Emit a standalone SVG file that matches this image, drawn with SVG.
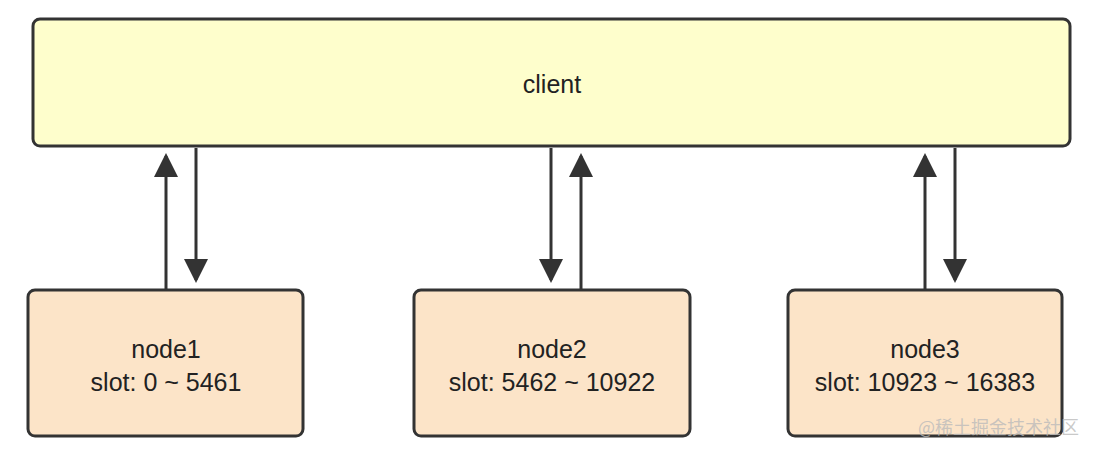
<svg xmlns="http://www.w3.org/2000/svg" width="1094" height="454" viewBox="0 0 1094 454">
<style>
.box{stroke:#333;stroke-width:3}
.t{font-family:"Liberation Sans",Arial,sans-serif;font-size:25px;fill:#222;text-anchor:middle}
.c{stroke:#333;stroke-width:3;fill:none}
</style>
<defs>
<marker id="a" markerWidth="8" markerHeight="12" refX="7" refY="4" orient="auto" markerUnits="strokeWidth" viewBox="0 0 8 8"><path d="M0,0 L8,4 L0,8 Z" fill="#333"/></marker>
</defs>
<rect width="1094" height="454" fill="#fff"/>
<g id="client"><rect class="box" x="33" y="19" width="1037" height="127" rx="7" fill="#fefecc"/><text class="t" x="552" y="93">client</text></g>
<g id="node1"><rect class="box" x="28" y="290" width="275" height="146" rx="7" fill="#fce4c8"/><text class="t" x="166" y="358">node1</text><text class="t" x="166" y="391">slot: 0 ~ 5461</text></g>
<g id="node2"><rect class="box" x="414" y="290" width="276" height="146" rx="7" fill="#fce4c8"/><text class="t" x="552" y="358">node2</text><text class="t" x="552" y="391">slot: 5462 ~ 10922</text></g>
<g id="node3"><rect class="box" x="788" y="290" width="274" height="146" rx="7" fill="#fce4c8"/><text class="t" x="925" y="358">node3</text><text class="t" x="925" y="391">slot: 10923 ~ 16383</text></g>
<g id="connectors">
<line class="c" x1="166" y1="289" x2="166" y2="156" marker-end="url(#a)"/>
<line class="c" x1="196" y1="148" x2="196" y2="280" marker-end="url(#a)"/>
<line class="c" x1="551" y1="148" x2="551" y2="280" marker-end="url(#a)"/>
<line class="c" x1="581" y1="289" x2="581" y2="156" marker-end="url(#a)"/>
<line class="c" x1="925" y1="289" x2="925" y2="156" marker-end="url(#a)"/>
<line class="c" x1="955" y1="148" x2="955" y2="280" marker-end="url(#a)"/>
</g>
<text x="918" y="434" font-family="'Noto Sans CJK SC',sans-serif" font-size="18" fill="#bbb" fill-opacity="0.8">@稀土掘金技术社区</text>
</svg>
